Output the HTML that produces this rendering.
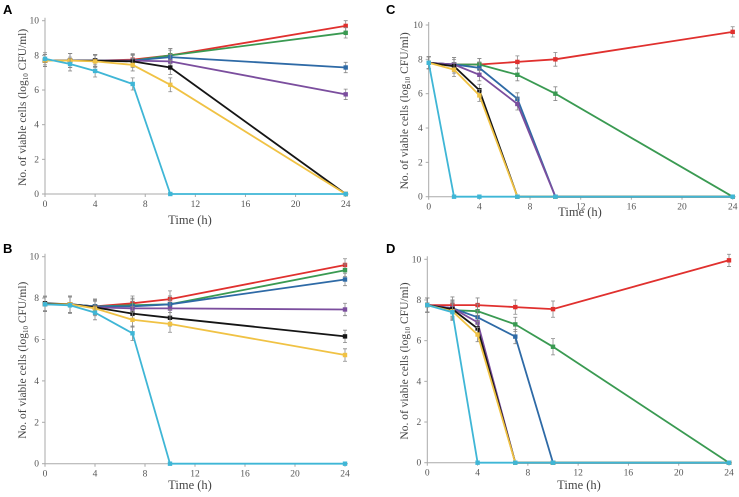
<!DOCTYPE html>
<html><head><meta charset="utf-8"><style>
html,body{margin:0;padding:0;background:#fff;}
svg{display:block;font-family:"Liberation Serif",serif;}
.pl{font-family:"Liberation Sans",sans-serif;font-weight:bold;font-size:13px;}
.tk{font-size:9.5px;fill:#555;}
.yt{font-size:11.5px;fill:#444;}
.xt{font-size:12.5px;fill:#444;}
</style></head><body>
<svg id="fig" width="739" height="497" viewBox="0 0 739 497" xmlns="http://www.w3.org/2000/svg"></svg>
<script>
const times = [0, 2, 4, 7, 10, 24];
const xTicks = [0, 4, 8, 12, 16, 20, 24];
const yTicks = [0, 2, 4, 6, 8, 10];
const seriesNames = ['red', 'green', 'blue', 'purple', 'black', 'yellow', 'cyan'];
const seriesColors = ['#e0302e', '#3a9a52', '#2e6aa6', '#7b4e9e', '#151515', '#f0c244', '#3fb6d6'];
const errSize = [0.35, 0.4, 0.35, 0.35, 0.4, 0.3];

const panelA = [
  [7.7, 7.7, 7.7, 7.75, 8.0, 9.7],
  [7.7, 7.7, 7.7, 7.7, 8.0, 9.3],
  [7.7, 7.7, 7.7, 7.7, 7.9, 7.3],
  [7.7, 7.7, 7.7, 7.7, 7.65, 5.75],
  [7.7, 7.7, 7.7, 7.65, 7.3, 0],
  [7.7, 7.7, 7.65, 7.45, 6.3, 0],
  [7.8, 7.5, 7.1, 6.35, 0, 0]
];
const panelB = [
  [7.7, 7.7, 7.6, 7.75, 7.95, 9.6],
  [7.7, 7.7, 7.6, 7.65, 7.7, 9.35],
  [7.7, 7.7, 7.6, 7.6, 7.7, 8.9],
  [7.7, 7.7, 7.55, 7.5, 7.5, 7.45],
  [7.75, 7.7, 7.55, 7.25, 7.05, 6.15],
  [7.7, 7.7, 7.5, 6.95, 6.75, 5.25],
  [7.7, 7.65, 7.3, 6.3, 0, 0]
];
const panelC = [
  [7.8, 7.7, 7.7, 7.85, 8.0, 9.6],
  [7.8, 7.7, 7.7, 7.1, 6.0, 0],
  [7.8, 7.7, 7.5, 5.7, 0, 0],
  [7.8, 7.7, 7.1, 5.4, 0, 0],
  [7.8, 7.6, 6.2, 0, 0, 0],
  [7.8, 7.4, 5.9, 0, 0, 0],
  [7.8, 0, 0, 0, 0, 0]
];
const panelD = [
  [7.75, 7.75, 7.75, 7.65, 7.55, 9.95],
  [7.75, 7.5, 7.45, 6.8, 5.7, 0],
  [7.75, 7.6, 7.15, 6.2, 0, 0],
  [7.75, 7.6, 6.9, 0, 0, 0],
  [7.75, 7.55, 6.6, 0, 0, 0],
  [7.75, 7.45, 6.3, 0, 0, 0],
  [7.75, 7.4, 0, 0, 0, 0]
];

const NS = 'http://www.w3.org/2000/svg';
const svg = document.getElementById('fig');
function mk(tag, attrs, parent) {
  const e = document.createElementNS(NS, tag);
  for (const k in attrs) e.setAttribute(k, attrs[k]);
  (parent || svg).appendChild(e);
  return e;
}

const panels = [
  {label: 'A', data: panelA, x0: 45, x1: 345.7, y0: 194, y1: 20.7, lx: 3, ly: 14, tx: 190, ty: 224, ytx: 26},
  {label: 'B', data: panelB, x0: 45, x1: 345, y0: 463.7, y1: 256.7, lx: 3, ly: 253, tx: 190, ty: 489, ytx: 26},
  {label: 'C', data: panelC, x0: 428.7, x1: 732.7, y0: 196.7, y1: 25, lx: 386, ly: 14, tx: 580, ty: 216, ytx: 408},
  {label: 'D', data: panelD, x0: 427.3, x1: 729, y0: 462.7, y1: 259.3, lx: 386, ly: 253, tx: 579, ty: 489, ytx: 408}
];

panels.forEach(p => {
  const g = mk('g', {});
  
  
  const xs = t => p.x0 + (p.x1 - p.x0) * t / 24;
  const ys = v => p.y0 + (p.y1 - p.y0) * v / 10;

  const lab = mk('text', {x: p.lx, y: p.ly, class: 'pl'}, g);
  lab.textContent = p.label;
  
  

  const ax = mk('path', {d: `M${p.x0} ${p.y1 - 3}V${p.y0}H${p.x1 + 3}`, stroke: '#aaa', fill: 'none', 'stroke-width': 1}, g);
  
  

  yTicks.forEach(v => {
    mk('line', {x1: p.x0 - 3, x2: p.x0, y1: ys(v), y2: ys(v), stroke: '#aaa'}, g);
    const t = mk('text', {x: p.x0 - 6, y: ys(v) + 3, class: 'tk', 'text-anchor': 'end'}, g);
    t.textContent = v;
    
    
  });
  xTicks.forEach(v => {
    mk('line', {x1: xs(v), x2: xs(v), y1: p.y0, y2: p.y0 + 3, stroke: '#aaa'}, g);
    const t = mk('text', {x: xs(v), y: p.y0 + 13, class: 'tk', 'text-anchor': 'middle'}, g);
    t.textContent = v;
    
    
  });

  const xt = mk('text', {x: p.tx, y: p.ty, class: 'xt', 'text-anchor': 'middle'}, g);
  xt.textContent = 'Time (h)';
  
  

  const cy = (p.y0 + p.y1) / 2;
  const yt = mk('text', {x: p.ytx, y: cy, class: 'yt', 'text-anchor': 'middle', transform: `rotate(-90 ${p.ytx} ${cy})`}, g);
  
  
  yt.appendChild(document.createTextNode('No. of viable cells (log'));
  const sub = mk('tspan', {'font-size': '7px', dy: 2}, yt);
  sub.textContent = '10';
  const rest = mk('tspan', {dy: -2}, yt);
  rest.textContent = ' CFU/ml)';

  p.data.forEach((vals, si) => {
    const sg = mk('g', {}, g);
    
    
    const col = seriesColors[si];
    vals.forEach((v, i) => {
      if (v > 0) {
        const e = errSize[i];
        const eb = mk('path', {d: `M${xs(times[i])} ${ys(v - e)}V${ys(v + e)}M${xs(times[i]) - 2} ${ys(v - e)}h4M${xs(times[i]) - 2} ${ys(v + e)}h4`, stroke: '#888', 'stroke-width': 0.8, fill: 'none'}, sg);
        
        
      }
    });
    let d = '';
    vals.forEach((v, i) => { d += (i ? 'L' : 'M') + xs(times[i]).toFixed(1) + ' ' + ys(v).toFixed(1); });
    const ln = mk('path', {d, stroke: col, 'stroke-width': 1.8, fill: 'none'}, sg);
    
    
    vals.forEach((v, i) => {
      const m = mk('rect', {x: xs(times[i]) - 2.2, y: ys(v) - 2.2, width: 4.4, height: 4.4, fill: col}, sg);
      
      
    });
  });
});
</script>
</body></html>
